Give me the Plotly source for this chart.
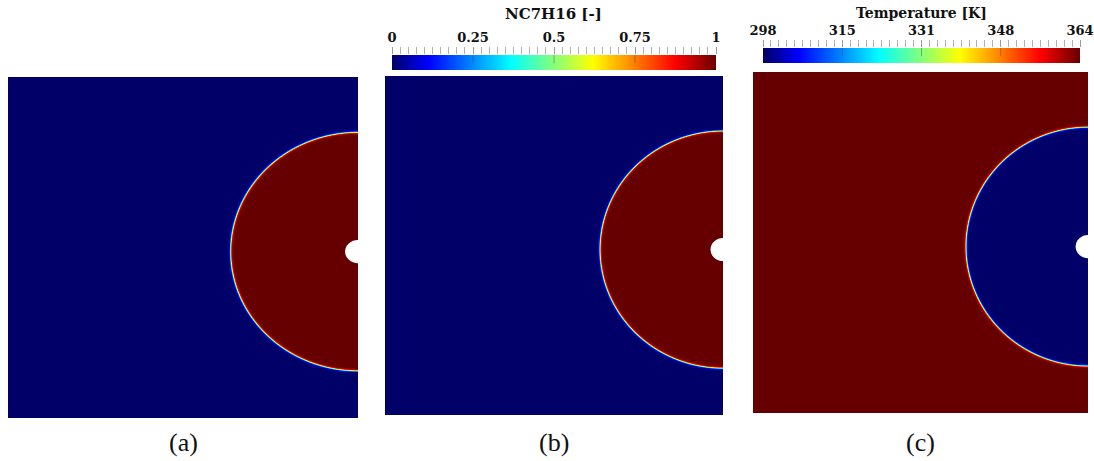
import numpy as np
import plotly.graph_objects as go

W, H = 1094, 461

# ---- data ----
panel_labels = ["(a)", "(b)", "(c)"]
species_range = [0.0, 1.0]
species_inside = 1.0
species_outside = 0.0
temp_range = [298.0, 364.0]
temp_inside = 298.0
temp_outside = 364.0
species_tickvals = [0.0, 0.25, 0.5, 0.75, 1.0]
species_ticktext = ["0", "0.25", "0.5", "0.75", "1"]
temp_tickvals = [298.0, 314.5, 331.0, 347.5, 364.0]
temp_ticktext = ["298", "315", "331", "348", "364"]
species_title = "NC7H16 [-]"
temp_title = "Temperature [K]"

# droplet / hole geometry (normalised domain units)
drop_cx, drop_cy = 1.0, 0.488
drop_rx, drop_ry = 0.364, 0.350
hole_rx, hole_ry = 0.037, 0.034
interface_width = 0.009

# ---- layout geometry (pixels) ----
panels_px = [(8, 358, 77, 418), (385, 723, 76, 415), (753, 1088, 72, 413)]
cbar_px = {"b": (392, 716, 55, 70), "c": (763, 1080, 48, 63)}

jet = [
    [0.0, "#000068"],
    [0.111, "#0000ff"],
    [0.365, "#00ffff"],
    [0.492, "#80ff80"],
    [0.619, "#ffff00"],
    [0.873, "#ff0000"],
    [1.0, "#660000"],
]


def px_dom_x(a, b):
    return [a / W, b / W]


def px_dom_y(top, bot):
    return [1 - bot / H, 1 - top / H]


def indicator_grid(nx, ny):
    gx = (np.arange(nx) + 0.5) / nx
    gy = (np.arange(ny) + 0.5) / ny
    XX, YY = np.meshgrid(gx, gy)
    rr = np.sqrt(((XX - drop_cx) / drop_rx) ** 2 + ((YY - drop_cy) / drop_ry) ** 2)
    return gx, gy, 0.5 * (1 - np.tanh((rr - 1) / interface_width))  # 1 inside droplet


fig = go.Figure()
layout = dict(
    width=W, height=H, margin=dict(l=0, r=0, t=0, b=0, pad=0, autoexpand=False),
    paper_bgcolor="white", plot_bgcolor="white", showlegend=False,
)
shapes = []
annotations = []

values = [(species_inside, species_outside, species_range),
          (species_inside, species_outside, species_range),
          (temp_inside, temp_outside, temp_range)]

for i, ((vin, vout, zr), (x0, x1, y0, y1)) in enumerate(zip(values, panels_px)):
    k = i + 1
    xa = "x" if k == 1 else f"x{k}"
    ya = "y" if k == 1 else f"y{k}"
    gx, gy, ind = indicator_grid(x1 - x0, y1 - y0)
    z = vout + (vin - vout) * ind
    fig.add_trace(go.Heatmap(
        x=gx, y=gy, z=z.astype(np.float32), colorscale=jet, zmin=zr[0], zmax=zr[1],
        zsmooth=False, showscale=False, xaxis=xa, yaxis=ya, hoverinfo="skip",
    ))
    layout["xaxis" if k == 1 else f"xaxis{k}"] = dict(
        domain=px_dom_x(x0, x1), range=[0, 1], visible=False, anchor=ya,
        fixedrange=True, automargin=False)
    layout["yaxis" if k == 1 else f"yaxis{k}"] = dict(
        domain=px_dom_y(y0, y1), range=[0, 1], visible=False, anchor=xa,
        fixedrange=True, automargin=False)
    shapes.append(dict(
        type="circle", xref=xa, yref=ya,
        x0=drop_cx - hole_rx, x1=drop_cx + hole_rx,
        y0=drop_cy - hole_ry, y1=drop_cy + hole_ry,
        fillcolor="white", line=dict(width=0), layer="above"))
    annotations.append(dict(
        text=panel_labels[i], xref="paper", yref="paper",
        x=(x0 + x1) / 2 / W, y=1 - 442 / H, showarrow=False,
        font=dict(family="Liberation Serif", size=26, color="#111"),
        xanchor="center", yanchor="middle"))

# colorbars as separate axes
cbars = [
    ("b", 4, species_range, species_tickvals, species_ticktext, species_title, 0.025, 14, 15),
    ("c", 5, temp_range, temp_tickvals, temp_ticktext, temp_title, 1.65, 13, 14),
]
for key, k, zr, tv, tt, title, minor_dt, title_y, title_size in cbars:
    x0, x1, y0, y1 = cbar_px[key]
    xa, ya = f"x{k}", f"y{k}"
    cx = np.linspace(zr[0], zr[1], 320)
    fig.add_trace(go.Heatmap(
        x=cx, y=[0, 1], z=np.vstack([cx, cx]), colorscale=jet, zmin=zr[0], zmax=zr[1],
        zsmooth="best", showscale=False, xaxis=xa, yaxis=ya, hoverinfo="skip",
    ))
    layout[f"xaxis{k}"] = dict(
        domain=px_dom_x(x0, x1), range=zr, anchor=ya, side="top", automargin=False,
        tickmode="array", tickvals=tv, ticktext=tt, ticks="outside", ticklen=7,
        tickcolor="#9a9a9a", tickwidth=1, showgrid=False, zeroline=False, showline=False,
        tickfont=dict(family="DejaVu Serif", size=13, color="#111", weight="bold"),
        minor=dict(tickmode="linear", tick0=zr[0], dtick=minor_dt, ticks="outside",
                   ticklen=7, tickcolor="#b0b0b0", tickwidth=1, showgrid=False),
        fixedrange=True)
    layout[f"yaxis{k}"] = dict(
        domain=px_dom_y(y0, y1), range=[0, 1], visible=False, anchor=xa,
        fixedrange=True, automargin=False)
    for v in tv[1:-1]:
        shapes.append(dict(type="line", xref=xa, yref=ya, x0=v, x1=v, y0=0.45, y1=1,
                           line=dict(color="rgba(70,70,70,0.45)", width=1), layer="above"))
    annotations.append(dict(
        text=f"<b>{title}</b>", xref="paper", yref="paper",
        x=(x0 + x1) / 2 / W, y=1 - title_y / H, showarrow=False,
        font=dict(family="DejaVu Serif", size=title_size, color="#111"),
        xanchor="center", yanchor="middle"))

layout["shapes"] = shapes
layout["annotations"] = annotations
fig.update_layout(**layout)
fig.write_html("out.html")
